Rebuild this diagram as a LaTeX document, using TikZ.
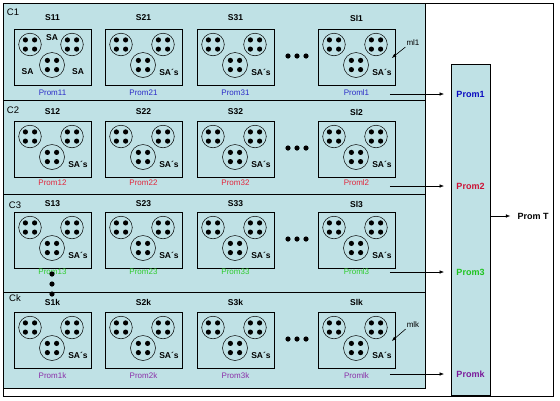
\documentclass[tikz,border=0pt]{standalone}
\usepackage{fontspec}
\setmainfont{Liberation Sans}
\usetikzlibrary{arrows.meta,positioning,calc}
\definecolor{panelcyan}{HTML}{BFE1E5}
\definecolor{promblue}{HTML}{2B2BC8}
\definecolor{promred}{HTML}{E2263C}
\definecolor{promgreen}{HTML}{2ECC2E}
\definecolor{prompurple}{HTML}{8A2DA8}
\definecolor{colblue}{HTML}{0A0AC0}
\definecolor{colred}{HTML}{CC1236}
\definecolor{colgreen}{HTML}{1EC41E}
\definecolor{colpurple}{HTML}{7A1A9A}
\def\firstbox{11}
\tikzset{
  >={Latex[length=4.5pt,width=3.6pt]},
  % kluster
  edgeline/.style={draw=black,line width=0.8pt},
  sgrp/.style={draw=black,line width=0.8pt,anchor=north west,inner sep=0pt,
               minimum width=77pt,minimum height=56pt},
  sacirc/.style={draw=black,line width=0.5pt},
  slab/.style={font=\fontsize{8.5}{10}\selectfont\bfseries,inner sep=1pt},
  plab/.style={font=\fontsize{8}{9.5}\selectfont,inner sep=1pt},
  clab/.style={font=\fontsize{9.5}{11}\selectfont,inner sep=1pt},
  salab/.style={font=\fontsize{8.5}{10}\selectfont\bfseries,inner sep=0.5pt},
  satrio/.pic={
    \foreach \cx/\cy/\cr in {16/15.5/11.3,58/15.5/11.3,38/36/12.5}{
      \draw[sacirc] (\cx,\cy) circle (\cr);
      \foreach \dx/\dy in {-4.6/-4.6,4.6/-4.6,-4.6/4.6,4.6/4.6}
        \fill (\cx+\dx,\cy+\dy) circle (2.6);
    }
  },
  % kolumn
  colbox/.style={draw=black,line width=0.8pt,fill=panelcyan,anchor=north west,
                 inner sep=0pt,minimum width=39pt,minimum height=331pt},
  qlab/.style={font=\fontsize{9}{10.5}\selectfont\bfseries,inner sep=1pt},
  feed/.style={->,draw=black,line width=0.6pt},
}
\begin{document}
\begin{tikzpicture}[x=1pt,y=-1pt]
  \useasboundingbox (0,0) rectangle (560,400);
  \fill[panelcyan] (3,3) rectangle (425,388);
  \draw[edgeline] (3,3) rectangle (425,388);
  \draw[edgeline] (3,100) -- (425,100);
  \draw[edgeline] (3,194) -- (425,194);
  \draw[edgeline] (3,292) -- (425,292);
  \node[clab] (c1) at (13,12) {C1};
  \node[clab] (c2) at (13,110) {C2};
  \node[clab] (c3) at (15,205) {C3};
  \node[clab] (ck) at (15,298) {Ck};
  \foreach \rw/\ty/\sy/\py/\pc in {1/29/18/93/promblue,2/121/112/183/promred,
                                   3/212/204/272/promgreen,k/312/302/376/prompurple}{
    \foreach \cn/\lx in {1/14,2/105,3/197,l/318}{
      \node[sgrp] (b\cn\rw) at (\lx,\ty) {};
      \pic at (b\cn\rw.north west) {satrio};
      \node[slab] (s\cn\rw) at (\lx+38.5,\sy) {S\cn\rw};
      \node[plab,text=\pc] (p\cn\rw) at (\lx+38.5,\py) {Prom\cn\rw};
      \edef\cur{\cn\rw}
      \ifx\cur\firstbox\else
        \node[salab] (sa\cn\rw) at ($(b\cn\rw.north west)+(64,43)$) {SA´s};
      \fi
    }
    \foreach \dx in {288,297,306}
      \fill (\dx,\ty+27) circle (2.6);
  }
  \node[salab] (sat) at ($(b11.north west)+(38,8.5)$) {SA};
  \node[salab] (sal) at ($(b11.north west)+(13.5,43)$) {SA};
  \node[salab] (sar) at ($(b11.north west)+(64,43)$) {SA};
  \foreach \dy in {274,284,294}
    \fill (52,\dy) circle (2.6);
  \node[plab] (ml1) at (413,43) {ml1};
  \coordinate (m1) at ($(bl1.north east)+(-4,29)$);
  \draw[feed] (ml1.south west) -- (m1);
  \node[plab] (mlk) at (413,325) {mlk};
  \coordinate (mk) at ($(blk.north east)+(-4,29)$);
  \draw[feed] (mlk.south west) -- (mk);
  % kolumn
  \node[colbox] (col) at (451,64) {};
  \node[qlab,text=colblue] (q1) at (470.5,94) {Prom1};
  \node[qlab,text=colred] (q2) at (470.5,186) {Prom2};
  \node[qlab,text=colgreen] (q3) at (470.5,272) {Prom3};
  \node[qlab,text=colpurple] (qk) at (470.5,374) {Promk};
  \foreach \rw in {1,2,3,k}{
    \coordinate (f\rw) at ([xshift=-6pt]bl\rw.east |- q\rw);
    \draw[feed,shorten >=7pt] (f\rw) -- (col.west |- q\rw);
  }
  \node[qlab] (promt) at (533,216) {Prom T};
  \draw[feed,shorten >=6pt] (col.east |- promt) -- (promt.west);
  \draw[edgeline] (3,3) rectangle (553,396);
\end{tikzpicture}
\end{document}
